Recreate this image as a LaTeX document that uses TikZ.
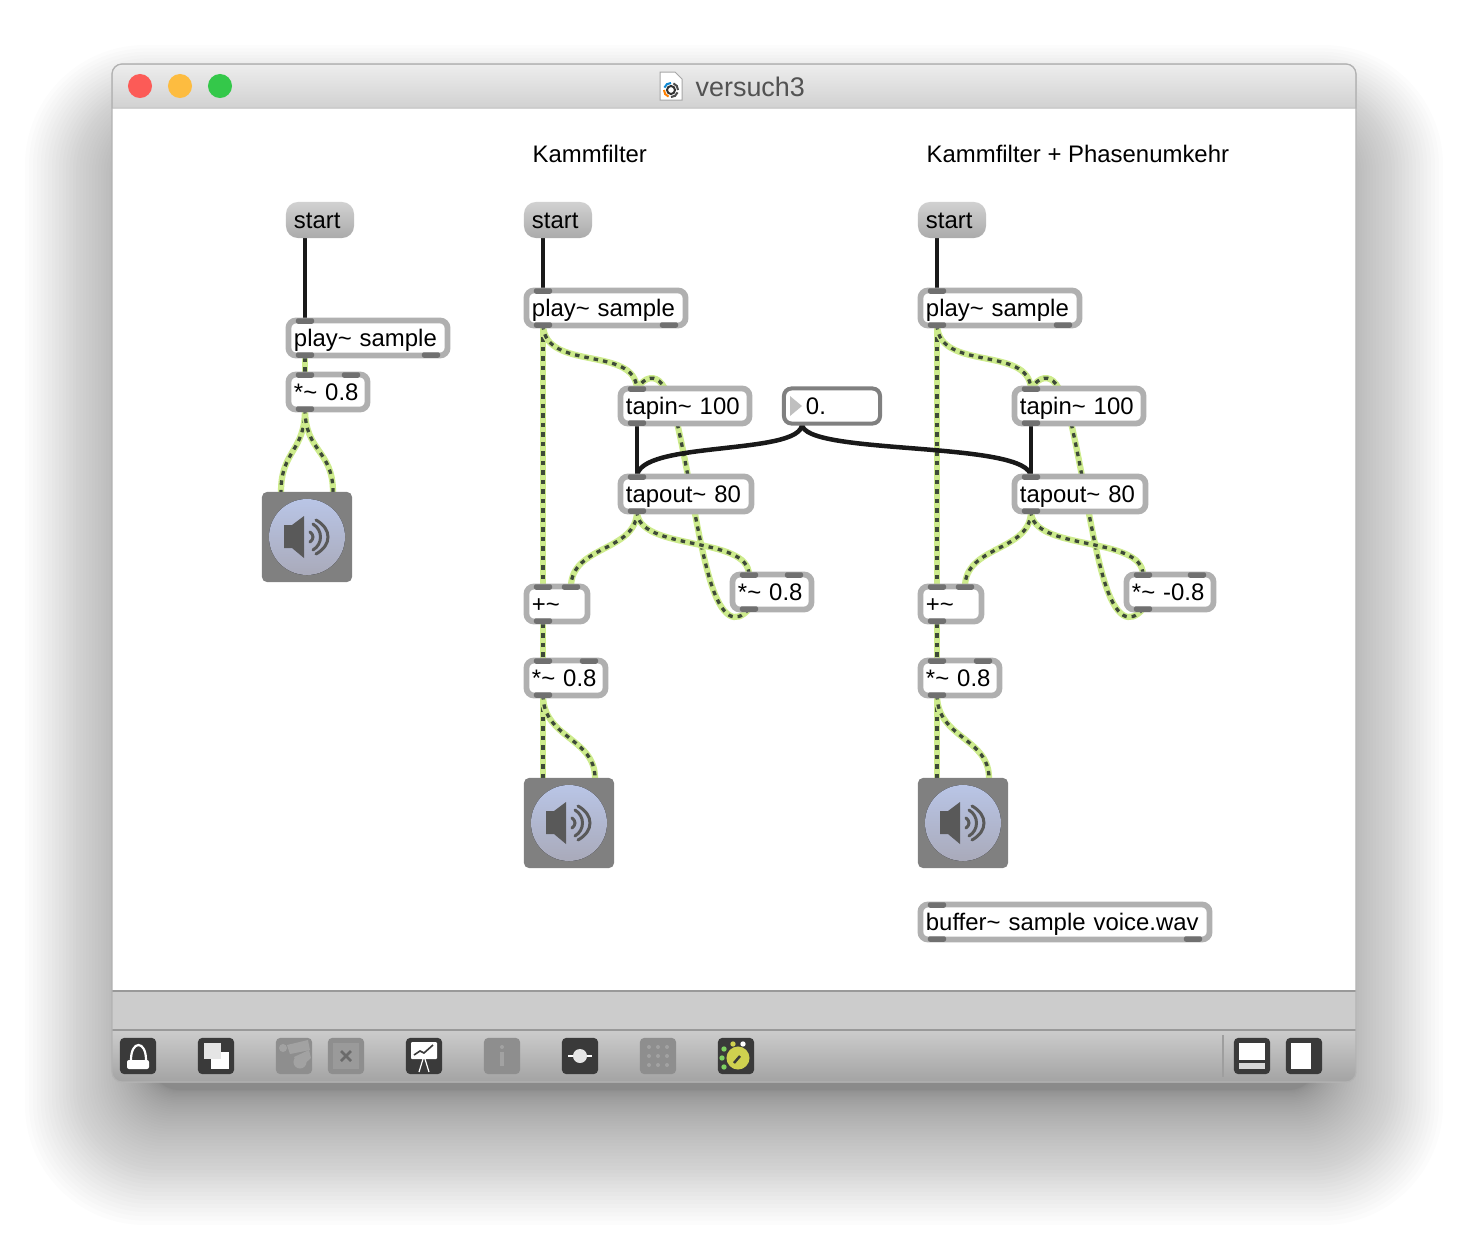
\documentclass[tikz,border=0pt]{standalone}
\usepackage{fontspec}
\setmainfont{Liberation Sans}
\usetikzlibrary{backgrounds}

\definecolor{sigGreen}{HTML}{CDEB8C}
\definecolor{sigDark}{HTML}{3E4A38}
\definecolor{objGray}{HTML}{B0B0B0}
\definecolor{portGray}{HTML}{707070}
\definecolor{numGray}{HTML}{808080}
\definecolor{iconDark}{HTML}{3A3A3A}
\definecolor{iconOff}{HTML}{8E8E8E}
\definecolor{iconOffLight}{HTML}{A2A2A2}
\definecolor{lightRed}{HTML}{FC5B57}
\definecolor{lightYellow}{HTML}{FDBC40}
\definecolor{lightGreen}{HTML}{34C84A}
\definecolor{speakerTop}{HTML}{B9C5E6}
\definecolor{speakerBottom}{HTML}{A9AABA}
\definecolor{knobYellow}{HTML}{CFD14F}
\definecolor{knobGreen}{HTML}{7ED060}

\begin{document}
\begin{tikzpicture}[
    x=0.01cm,
    y=-0.01cm,
    font=\fontsize{6.8}{8}\selectfont,
    obj/.style={
        rectangle,
        draw=objGray,
        line width=0.058cm,
        fill=white,
        rounded corners=0.075cm,
        outer sep=0pt,
        inner xsep=0.055cm,
        inner ysep=0.065cm,
        text height=0.195cm,
        text depth=0.025cm,
        align=left,
        text width=#1
    },
    msg/.style={
        rectangle,
        rounded corners=0.12cm,
        top color=black!18,
        bottom color=black!33,
        outer sep=0pt,
        inner xsep=0.08cm,
        inner ysep=0.07cm,
        text width=0.52cm,
        align=left,
        text height=0.195cm,
        text depth=0.025cm
    },
    port/.style={
        rectangle,
        fill=portGray,
        rounded corners=0.02cm,
        inner sep=0pt,
        outer sep=0pt,
        minimum width=0.18cm,
        minimum height=0.055cm
    },
    dacbox/.style={
        rectangle,
        fill=black!50,
        rounded corners=0.05cm,
        minimum size=0.9cm,
        inner sep=0pt
    },
    title/.style={anchor=base west, inner sep=0pt},
    signal/.style={
        draw=sigDark,
        line width=0.033cm,
        dash pattern=on 0.045cm off 0.05cm,
        preaction={draw=sigGreen, solid, line width=0.062cm}
    },
    control/.style={draw=black!90, line width=0.045cm},
    iconbox/.style={
        rectangle,
        rounded corners=0.04cm,
        minimum size=0.36cm,
        inner sep=0pt,
        fill=iconDark
    },
    iconoff/.style={iconbox, fill=iconOff},
    speaker/.pic={
        \fill[top color=speakerTop, bottom color=speakerBottom]
            (0,0) circle [radius=0.38cm];
        \fill[black!65] (-23,-12) -- (-15,-12) -- (-3,-21) -- (-3,21) -- (-15,11) -- (-23,11) -- cycle;
        \draw[black!65, line width=0.03cm, line cap=round]
            (3,-5) .. controls (7,-2) and (7,2) .. (3,5);
        \draw[black!65, line width=0.03cm, line cap=round]
            (6,-13) .. controls (16,-7) and (16,7) .. (6,13);
        \draw[black!65, line width=0.03cm, line cap=round]
            (9,-17) .. controls (25,-8) and (25,8) .. (9,17);
    }
]
\useasboundingbox (0,0) rectangle (1468,1242);

% Left patch
\node[msg] (startL) at (320,220) {start};
\node[obj=1.48cm] (playL) at (368,338) {play\textasciitilde{} sample};
\node[obj=0.68cm] (mulL) at (328,392) {*\textasciitilde{} 0.8};
\node[dacbox] (dacL) at (307,537) {};
\pic at (dacL.center) {speaker};
\coordinate (startLo) at (305,236);
\coordinate (dacLa) at (281,492);
\coordinate (dacLb) at (333,492);
\node[port] (playLi) at (305,321) {};
\node[port] (playLo) at (305,355) {};
\node[port] (playLr) at (431,355) {};
\node[port] (mulLi) at (305,375) {};
\node[port] (mulLr) at (351,375) {};
\node[port] (mulLo) at (305,409) {};

% Two comb filter patches
\foreach \c/\dx/\gain/\w/\cx in {M/0/0.8/0.68cm/772,R/394/-0.8/0.76cm/1170} {
    \node[msg] (start\c) at (558+\dx,220) {start};
    \node[obj=1.48cm] (play\c) at (606+\dx,308) {play\textasciitilde{} sample};
    \node[obj=1.18cm] (tapin\c) at (685+\dx,406) {tapin\textasciitilde{} 100};
    \node[obj=1.20cm] (tapout\c) at (686+\dx,494) {tapout\textasciitilde{} 80};
    \node[obj=\w] (fb\c) at (\cx,592) {*\textasciitilde{} \gain};
    \node[obj=0.50cm] (plus\c) at (557+\dx,604) {+\textasciitilde};
    \node[obj=0.68cm] (mul\c) at (566+\dx,678) {*\textasciitilde{} 0.8};
    \node[dacbox] (dac\c) at (569+\dx,823) {};
    \pic at (dac\c.center) {speaker};

    \coordinate (start\c o) at (543+\dx,236);
    \coordinate (dac\c a) at (543+\dx,778);
    \coordinate (dac\c b) at (595+\dx,778);

    \node[port] (play\c i) at (543+\dx,291) {};
    \node[port] (play\c o) at (543+\dx,325) {};
    \node[port] (play\c r) at (669+\dx,325) {};
    \node[port] (tapin\c i) at (637+\dx,389) {};
    \node[port] (tapin\c o) at (637+\dx,423) {};
    \node[port] (tapout\c i) at (637+\dx,477) {};
    \node[port] (tapout\c o) at (637+\dx,511) {};
    \node[port] (fb\c i) at (749+\dx,575) {};
    \node[port] (fb\c r) at (\cx+22+\dx/394*5,575) {};
    \node[port] (fb\c o) at (749+\dx,609) {};
    \node[port] (plus\c i) at (543+\dx,587) {};
    \node[port] (plus\c r) at (571+\dx,587) {};
    \node[port] (plus\c o) at (543+\dx,621) {};
    \node[port] (mul\c i) at (543+\dx,661) {};
    \node[port] (mul\c r) at (589+\dx,661) {};
    \node[port] (mul\c o) at (543+\dx,695) {};
}

% Number box
\node[obj=0.80cm, draw=numGray, line width=0.04cm, inner xsep=0.08cm] (num) at (832,406) {\hspace{0.14cm}0.};
\fill[black!25] (790,396) -- (802,406) -- (790,416) -- cycle;
\coordinate (numo) at (802,424);

% Buffer
\node[obj=2.78cm] (buffer) at (1065,922) {buffer\textasciitilde{} sample voice.wav};
\node[port] (bufferi) at (937,905) {};
\node[port] (buffero) at (937,939) {};
\node[port] (bufferr) at (1193,939) {};

% Labels
\node[title] (labelM) at (532,162) {Kammfilter};
\node[title] (labelR) at (926,162) {Kammfilter + Phasenumkehr};

\begin{scope}[on background layer]
    % Shadow
    \foreach \i [evaluate=\i as \u using (\i/50)^1.6] in {0,...,50}
        \fill[black, opacity=0.013, rounded corners=0.3cm+0.9cm*\u]
            (150-125*\u,150-105*\u) rectangle (1318+125*\u,1090+135*\u);

    % Window
    \fill[white, rounded corners=0.1cm] (112,64) rectangle (1356,1082);
    \path[top color=black!7, bottom color=black!18, draw=black!25, line width=0.01cm]
        (112,108) [rounded corners=0.1cm] -- (112,64) -- (1356,64) [sharp corners] -- (1356,108) -- cycle;
    \path[fill=black!20] (112,992) rectangle (1356,1030);
    \path[top color=black!20, bottom color=black!36]
        (112,1030) -- (1356,1030) [rounded corners=0.1cm] -- (1356,1082) -- (112,1082) [sharp corners] -- cycle;
    \draw[black!40, line width=0.015cm] (112,991) -- (1356,991);
    \draw[black!40, line width=0.015cm] (112,1030) -- (1356,1030);
    \draw[black!30, line width=0.012cm, rounded corners=0.1cm] (112,64) rectangle (1356,1082);

    % Left cables
    \draw[control] (startLo) -- (playLi);
    \draw[signal] (playLo) -- (mulLi);
    \draw[signal] (mulLo.center) .. controls (305,452) and (281,450) .. (dacLa);
    \draw[signal] (mulLo.center) .. controls (305,452) and (333,450) .. (dacLb);

    % Comb filter cables
    \foreach \c/\dx in {M/0,R/394} {
        \draw[control] (start\c o) -- (play\c i);
        \draw[control] (tapin\c o) -- (tapout\c i);
        \draw[signal] (play\c o) -- (plus\c i);
        \draw[signal] (play\c o.center) .. controls (545+\dx,372) and (635+\dx,345) .. (tapin\c i.center);
        \draw[signal] (fb\c o.center) .. controls (736+\dx,624) and (722+\dx,620) .. (710+\dx,580)
            .. controls (698+\dx,540) and (690+\dx,480) .. (678+\dx,427)
            .. controls (672+\dx,405) and (668+\dx,392) .. (662+\dx,384)
            .. controls (655+\dx,375) and (645+\dx,376) .. (tapin\c i.center);
        \draw[signal] (tapout\c o.center) .. controls (637+\dx,552) and (571+\dx,545) .. (plus\c r.center);
        \draw[signal] (tapout\c o.center) .. controls (637+\dx,552) and (749+\dx,535) .. (fb\c i.center);
        \draw[signal] (plus\c o) -- (mul\c i);
        \draw[signal] (mul\c o) -- (dac\c a);
        \draw[signal] (mul\c o.center) .. controls (543+\dx,738) and (595+\dx,738) .. (dac\c b);
    }

    % Number box to both tapouts
    \draw[control] (numo) .. controls (802,456) and (637,440) .. (tapoutMi.center);
    \draw[control] (numo) .. controls (802,456) and (1031,440) .. (tapoutRi.center);
\end{scope}

% Title bar
\fill[lightRed] (140,86) circle [radius=0.12cm];
\fill[lightYellow] (180,86) circle [radius=0.12cm];
\fill[lightGreen] (220,86) circle [radius=0.12cm];
\node[title, text=black!68, font=\fontsize{7.65}{9}\selectfont] (wintitle) at (695,96) {versuch3};
\filldraw[fill=white, draw=black!35, line width=0.01cm] (660,72) -- (675,72) -- (682,79) -- (682,100) -- (660,100) -- cycle;
\begin{scope}[shift={(671,90)}]
    \draw[black!80, line width=0.02cm] (0,0) circle [radius=0.04cm];
    \foreach \a/\col in {20/black!70,110/orange,200/cyan!70!blue,290/black!70}
        \draw[\col, line width=0.02cm] (\a:7) .. controls (\a+25:7.7) and (\a+45:7.7) .. (\a+70:7);
\end{scope}

% Toolbar
\node[iconbox] (lock) at (138,1056) {};
\fill[white, rounded corners=0.02cm] (127,1060) rectangle (149,1069);
\draw[white, line width=0.022cm] (131,1060) .. controls (131,1040) and (146,1040) .. (146,1060);

\node[iconbox] (windows) at (216,1056) {};
\fill[white] (211,1052) rectangle (229,1069);
\fill[black!10] (204,1043) rectangle (221,1059);

\node[iconoff] (finder) at (294,1056) {};
\fill[iconOffLight] (283,1048) circle [radius=0.04cm];
\fill[iconOffLight] (287,1045) -- (308,1040) -- (310,1050) -- (290,1054) -- cycle;
\fill[iconOffLight] (300,1062) circle [radius=0.065cm];
\fill[iconOffLight] (294,1057) -- (309,1050) -- (311,1058) -- (300,1068) -- cycle;

\node[iconoff] (closebox) at (346,1056) {};
\fill[iconOffLight!60!iconOff] (333,1043) rectangle (359,1069);
\draw[iconOff!75!black, line width=0.025cm] (341,1051) -- (351,1061) (351,1051) -- (341,1061);

\node[iconbox] (present) at (424,1056) {};
\fill[white, rounded corners=0.01cm] (411,1042) rectangle (437,1059);
\draw[iconDark, line width=0.016cm] (414,1055) -- (420,1051) -- (424,1053) -- (433,1045);
\draw[white, line width=0.012cm] (423,1059) -- (419,1072) (425,1059) -- (429,1072);

\node[iconoff] (inspector) at (502,1056) {};
\fill[iconOffLight] (502,1047) circle [radius=0.02cm];
\fill[iconOffLight] (500,1052) rectangle (504,1066);

\node[iconbox] (slider) at (580,1056) {};
\draw[white, line width=0.025cm] (568,1056) -- (592,1056);
\fill[black!10] (580,1056) circle [radius=0.07cm];

\node[iconoff] (grid) at (658,1056) {};
\foreach \gx in {649,658,667}
    \foreach \gy in {1047,1056,1065}
        \fill[iconOffLight] (\gx,\gy) circle [radius=0.02cm];

\node[iconbox] (knob) at (736,1056) {};
\fill[knobYellow] (738,1058) circle [radius=0.115cm];
\draw[iconDark, line width=0.025cm] (734,1063) -- (740,1056);
\foreach \kx/\ky/\kc in {724/1049/knobGreen,722/1058/knobGreen,724/1067/knobGreen,733/1044/knobYellow,743/1044/white}
    \fill[\kc] (\kx,\ky) circle [radius=0.027cm];

\draw[black!38, line width=0.015cm] (1223,1035) -- (1223,1077);
\node[iconbox] (bottombar) at (1252,1056) {};
\fill[white] (1239,1043) rectangle (1265,1060);
\fill[black!15] (1239,1063) rectangle (1265,1069);
\node[iconbox] (sidebar) at (1304,1056) {};
\fill[white] (1291,1043) rectangle (1311,1069);

\end{tikzpicture}
\end{document}
